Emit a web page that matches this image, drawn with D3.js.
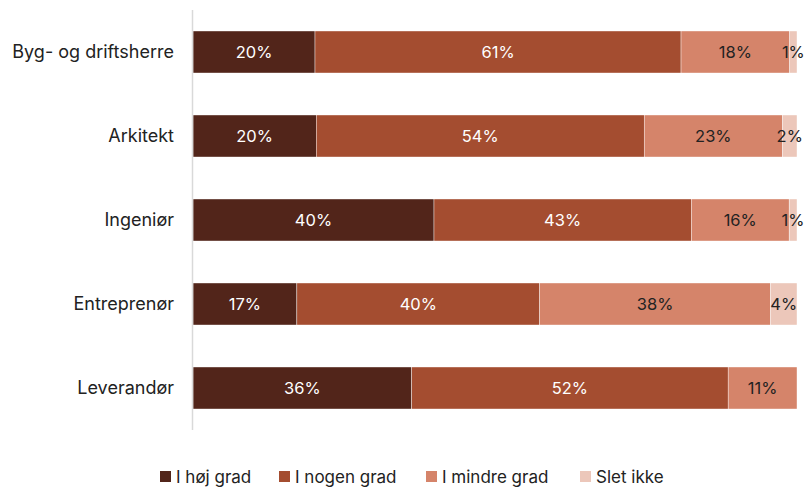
<!DOCTYPE html>
<html>
<head>
<meta charset="utf-8">
<script src="https://cdn.jsdelivr.net/npm/d3@7"></script>
<style>
  body { margin: 0; background: #fff; }
  svg { font-family: "Inter", "DejaVu Sans", sans-serif; }
</style>
</head>
<body>
<div id="chart"></div>
<script>
// categories and the four answer groups (share of answers, %)
var categories = ["Byg- og driftsherre", "Arkitekt", "Ingeniør", "Entreprenør", "Leverandør"];
var keys = ["I høj grad", "I nogen grad", "I mindre grad", "Slet ikke"];
var hoejGrad   = [20.2, 20.4, 39.9, 17.2, 36.2];
var nogenGrad  = [60.6, 54.3, 42.6, 40.2, 52.4];
var mindreGrad = [18.0, 22.9, 16.2, 38.2, 11.4];
var sletIkke   = [1.2, 2.4, 1.3, 4.4, 0];

var colors = ["#52251a", "#a44d30", "#d5846a", "#ecc7ba"];
var textColors = ["#ffffff", "#ffffff", "#222222", "#222222"];

// build rows for d3.stack
var data = categories.map(function(c, i) {
  var row = {cat: c};
  row[keys[0]] = hoejGrad[i];
  row[keys[1]] = nogenGrad[i];
  row[keys[2]] = mindreGrad[i];
  row[keys[3]] = sletIkke[i];
  return row;
});

var width = 804, height = 487;
var margin = {top: 10, right: 7, bottom: 57, left: 193};

var svg = d3.select("#chart").append("svg")
  .attr("width", width)
  .attr("height", height);

var x = d3.scaleLinear()
  .domain([0, 100])
  .range([margin.left, width - margin.right]);

var y = d3.scaleBand()
  .domain(categories)
  .range([margin.top, height - margin.bottom])
  .paddingInner(0.5)
  .paddingOuter(0.25);

var stacked = d3.stack().keys(keys)(data);

var layers = svg.selectAll("g.layer")
  .data(stacked)
  .enter().append("g")
  .attr("class", "layer")
  .attr("fill", function(d, i) { return colors[i]; });

layers.selectAll("rect")
  .data(function(d) { return d; })
  .enter().append("rect")
  .attr("x", function(d) { return x(d[0]); })
  .attr("y", function(d) { return y(d.data.cat); })
  .attr("width", function(d) { return x(d[1]) - x(d[0]); })
  .attr("height", y.bandwidth())
  .attr("stroke", "#fff")
  .attr("stroke-width", 0.4);

// value labels
stacked.forEach(function(layer, k) {
  svg.selectAll(null)
    .data(layer.filter(function(d) { return d[1] - d[0] > 0; }))
    .enter().append("text")
    .attr("x", function(d) { return (x(d[0]) + x(d[1])) / 2; })
    .attr("y", function(d) { return y(d.data.cat) + y.bandwidth() / 2; })
    .attr("dy", "0.36em")
    .attr("text-anchor", "middle")
    .style("font-size", "16.5px")
    .style("fill", textColors[k])
    .text(function(d) { return Math.round(d[1] - d[0]) + "%"; });
});

// y axis: just the vertical line and labels
svg.append("line")
  .attr("x1", margin.left - 0.5).attr("x2", margin.left - 0.5)
  .attr("y1", margin.top).attr("y2", height - margin.bottom)
  .attr("stroke", "#d9d9d9")
  .attr("stroke-width", 1.5);

svg.append("g")
  .attr("transform", "translate(" + margin.left + ",0)")
  .call(d3.axisLeft(y).tickSize(0).tickPadding(19))
  .call(function(g) { g.select(".domain").remove(); })
  .selectAll("text")
  .style("font-family", "Inter, sans-serif")
  .style("font-size", "18px")
  .style("fill", "#222");

// legend
var legendX = [160, 279, 426, 580];
var legend = svg.selectAll("g.legend")
  .data(keys)
  .enter().append("g")
  .attr("class", "legend")
  .attr("transform", function(d, i) { return "translate(" + legendX[i] + ",471)"; });

legend.append("rect")
  .attr("width", 11).attr("height", 11)
  .attr("y", 0)
  .attr("fill", function(d, i) { return colors[i]; });

legend.append("text")
  .attr("x", 16)
  .attr("y", 6)
  .attr("dy", "0.36em")
  .style("font-size", "17px")
  .style("fill", "#222")
  .text(function(d) { return d; });
</script>
</body>
</html>
